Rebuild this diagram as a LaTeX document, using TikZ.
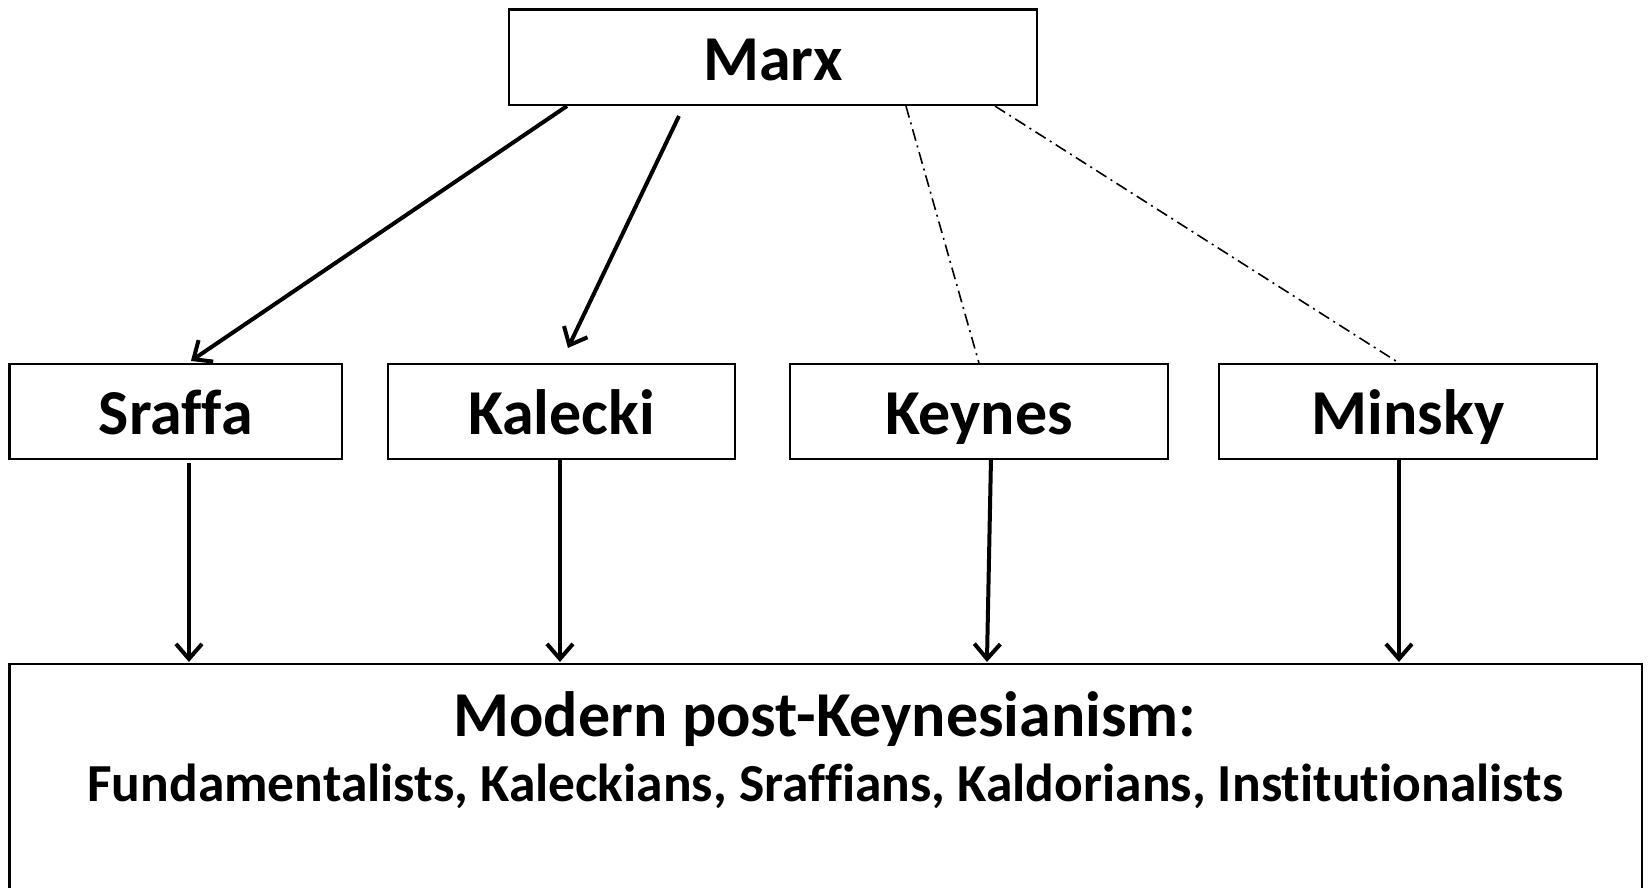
\documentclass[tikz,border=0pt]{standalone}
\usepackage{fontspec}
\setmainfont{Carlito}[Ligatures=NoCommon]
\usetikzlibrary{arrows.meta,calc}
\begin{document}
\begin{tikzpicture}[x=1pt,y=-1pt,
  box/.style={draw,line width=2.1pt,rectangle,inner sep=0pt,fill=white},
  lbl/.style={font=\fontsize{64}{70}\selectfont\bfseries,anchor=base},
  arr/.style={line width=4pt,-{Straight Barb[length=15pt,width=26pt,line width=4pt]}},
  dd/.style={line width=1.6pt,dash pattern=on 12pt off 5pt on 2pt off 5pt}]
\useasboundingbox (0,0) rectangle (1648,888);
\node[box,minimum width=528pt,minimum height=95.5pt] (marx) at (773,57.25) {};
\node[lbl] (marxt) at (773,81) {Marx};
\node[box,minimum width=332.5pt,minimum height=95pt] (sraffa) at (175.75,411.5) {};
\node[lbl] (sraffat) at (175.75,434) {Sraffa};
\node[box,minimum width=347pt,minimum height=95pt] (kalecki) at (561.5,411.5) {};
\node[lbl] (kaleckit) at (561.5,434) {Kalecki};
\node[box,minimum width=378pt,minimum height=95pt] (keynes) at (979,411.5) {};
\node[lbl] (keynest) at (979,434) {Keynes};
\node[box,minimum width=378pt,minimum height=95pt] (minsky) at (1408,411.5) {};
\node[lbl] (minskyt) at (1408,434) {Minsky};
\node[box,minimum width=1632.5pt,minimum height=300pt] (pk) at (825.75,814) {};
\node[lbl] (pkt) at (825,736) {Modern post-Keynesianism:};
\node[font=\fontsize{53.5}{60}\selectfont\bfseries,anchor=base] (pks) at (825,801) {Fundamentalists, Kaleckians, Sraffians, Kaldorians, Institutionalists};
% arrows from Marx
\draw[arr] ($(marx.south west)+(59,0)$) -- ($(sraffa.north west)+(182.5,-2)$);
\draw[arr] ($(marx.south west)+(171,10)$) -- ($(kalecki.north west)+(181,-15)$);
\draw[dd] ($(marx.south west)+(398,0)$) -- ($(keynes.north west)+(190,0)$);
\draw[dd] ($(marx.south west)+(487,0)$) -- ($(minsky.north west)+(181,0)$);
% arrows down
\draw[arr] ($(sraffa.south west)+(180.5,3)$) -- ($(pk.north west)+(180.5,-1)$);
\draw[arr] ($(kalecki.south west)+(173,0)$) -- ($(pk.north west)+(551.5,-1)$);
\draw[arr] ($(keynes.south west)+(202,0)$) -- ($(pk.north west)+(978.5,-1)$);
\draw[arr] ($(minsky.south west)+(181,0)$) -- ($(pk.north west)+(1390.5,-1)$);
\end{tikzpicture}
\end{document}
